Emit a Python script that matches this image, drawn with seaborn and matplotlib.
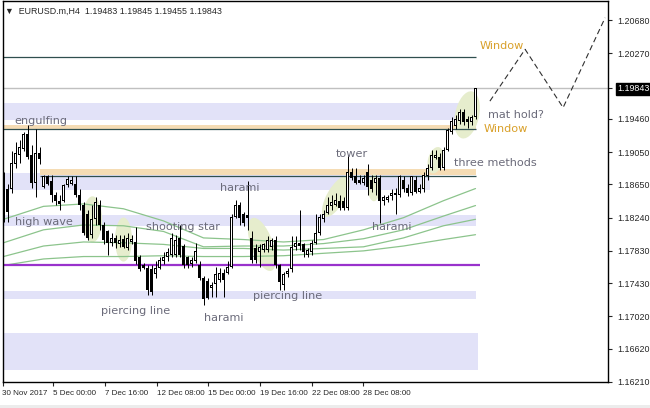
import numpy as np
import pandas as pd
import matplotlib
matplotlib.use("Agg")
import matplotlib.pyplot as plt
import seaborn as sns
from matplotlib.patches import Ellipse, Rectangle
from matplotlib.transforms import IdentityTransform

# ---------------- data (EURUSD H4) ----------------
opens = [1.1877, 1.1859, 1.1859, 1.1890, 1.1901, 1.1909, 1.1928, 1.1902, 1.1867, 1.1904,
         1.1862, 1.1875, 1.1869, 1.1852, 1.1844, 1.1844, 1.1864, 1.1866, 1.1866, 1.1852,
         1.1840, 1.1828, 1.1803, 1.1822, 1.1840, 1.1815, 1.1807, 1.1793, 1.1799, 1.1791,
         1.1798, 1.1787, 1.1794, 1.1794, 1.1775, 1.1765, 1.1762, 1.1760, 1.1754, 1.1762,
         1.1770, 1.1775, 1.1778, 1.1778, 1.1799, 1.1789, 1.1775, 1.1767, 1.1771, 1.1766,
         1.1750, 1.1746, 1.1737, 1.1742, 1.1747, 1.1756, 1.1756, 1.1763, 1.1825, 1.1840,
         1.1828, 1.1827, 1.1799, 1.1787, 1.1781, 1.1784, 1.1784, 1.1788, 1.1797, 1.1765,
         1.1741, 1.1754, 1.1760, 1.1788, 1.1793, 1.1791, 1.1778, 1.1781, 1.1793, 1.1805,
         1.1822, 1.1830, 1.1838, 1.1840, 1.1844, 1.1844, 1.1836, 1.1880, 1.1875, 1.1871,
         1.1867, 1.1881, 1.1871, 1.1867, 1.1873, 1.1844, 1.1846, 1.1851, 1.1852, 1.1852,
         1.1871, 1.1861, 1.1855, 1.1871, 1.1856, 1.1859, 1.1875, 1.1886, 1.1898, 1.1899,
         1.1886, 1.1908, 1.1930, 1.1937, 1.1943, 1.1954, 1.1946, 1.1942, 1.19483]
highs = [1.1881, 1.1865, 1.1906, 1.1917, 1.1920, 1.1930, 1.1939, 1.1914, 1.1933, 1.1911,
         1.1877, 1.1877, 1.1877, 1.1856, 1.1852, 1.1865, 1.1875, 1.1875, 1.1875, 1.1859,
         1.1843, 1.1834, 1.1840, 1.1849, 1.1846, 1.1819, 1.1809, 1.1805, 1.1803, 1.1802,
         1.1803, 1.1805, 1.1802, 1.1813, 1.1778, 1.1768, 1.1766, 1.1765, 1.1770, 1.1776,
         1.1782, 1.1787, 1.1805, 1.1803, 1.1815, 1.1792, 1.1777, 1.1775, 1.1793, 1.1770,
         1.1752, 1.1750, 1.1745, 1.1763, 1.1762, 1.1760, 1.1770, 1.1828, 1.1846, 1.1843,
         1.1831, 1.1869, 1.1807, 1.1791, 1.1792, 1.1793, 1.1801, 1.1799, 1.1801, 1.1767,
         1.1757, 1.1762, 1.1801, 1.1801, 1.1834, 1.1793, 1.1787, 1.1797, 1.1828, 1.1828,
         1.1834, 1.1850, 1.1852, 1.1855, 1.1852, 1.1849, 1.1902, 1.1886, 1.1886, 1.1877,
         1.1877, 1.1890, 1.1877, 1.1877, 1.1877, 1.1852, 1.1852, 1.1859, 1.1861, 1.1877,
         1.1876, 1.1865, 1.1875, 1.1875, 1.1865, 1.1881, 1.1890, 1.1908, 1.1908, 1.1904,
         1.1911, 1.1935, 1.1948, 1.1951, 1.1958, 1.1958, 1.1950, 1.1951, 1.19845]
lows = [1.1819, 1.1819, 1.1855, 1.1886, 1.1892, 1.1906, 1.1896, 1.1861, 1.1850, 1.1890,
        1.1861, 1.1864, 1.1843, 1.1840, 1.1834, 1.1843, 1.1862, 1.1864, 1.1850, 1.1834,
        1.1803, 1.1797, 1.1799, 1.1815, 1.1809, 1.1791, 1.1778, 1.1789, 1.1787, 1.1788,
        1.1786, 1.1784, 1.1791, 1.1767, 1.1758, 1.1760, 1.1729, 1.1728, 1.1750, 1.1760,
        1.1767, 1.1770, 1.1776, 1.1776, 1.1776, 1.1762, 1.1762, 1.1763, 1.1768, 1.1747,
        1.1716, 1.1723, 1.1726, 1.1726, 1.1745, 1.1726, 1.1754, 1.1762, 1.1823, 1.1815,
        1.1814, 1.1809, 1.1768, 1.1768, 1.1763, 1.1782, 1.1782, 1.1784, 1.1762, 1.1735,
        1.1735, 1.1751, 1.1757, 1.1784, 1.1784, 1.1775, 1.1775, 1.1778, 1.1791, 1.1803,
        1.1819, 1.1828, 1.1834, 1.1838, 1.1834, 1.1834, 1.1834, 1.1871, 1.1865, 1.1865,
        1.1864, 1.1852, 1.1856, 1.1852, 1.1818, 1.1840, 1.1843, 1.1846, 1.1828, 1.1850,
        1.1856, 1.1851, 1.1852, 1.1854, 1.1854, 1.1856, 1.1871, 1.1883, 1.1896, 1.1883,
        1.1883, 1.1906, 1.1928, 1.1933, 1.1940, 1.1939, 1.1935, 1.1939, 1.19455]
closes = [1.1830, 1.1831, 1.1892, 1.1904, 1.1911, 1.1927, 1.1899, 1.1867, 1.1904, 1.1896,
          1.1875, 1.1866, 1.1852, 1.1844, 1.1841, 1.1864, 1.1872, 1.1871, 1.1852, 1.1840,
          1.1805, 1.1799, 1.1822, 1.1843, 1.1815, 1.1797, 1.1793, 1.1799, 1.1793, 1.1797,
          1.1788, 1.1799, 1.1798, 1.1770, 1.1761, 1.1762, 1.1735, 1.1732, 1.1762, 1.1772,
          1.1776, 1.1782, 1.1799, 1.1797, 1.1778, 1.1765, 1.1765, 1.1772, 1.1783, 1.1750,
          1.1723, 1.1725, 1.1741, 1.1754, 1.1756, 1.1747, 1.1763, 1.1825, 1.1840, 1.1824,
          1.1818, 1.1823, 1.1772, 1.1772, 1.1788, 1.1791, 1.1797, 1.1796, 1.1765, 1.1744,
          1.1754, 1.1758, 1.1788, 1.1793, 1.1789, 1.1781, 1.1784, 1.1793, 1.1805, 1.1825,
          1.1828, 1.1840, 1.1843, 1.1846, 1.1836, 1.1836, 1.1880, 1.1873, 1.1867, 1.1867,
          1.1873, 1.1862, 1.1859, 1.1873, 1.1844, 1.1850, 1.1850, 1.1855, 1.1855, 1.1875,
          1.1859, 1.1855, 1.1875, 1.1856, 1.1861, 1.1877, 1.1886, 1.1901, 1.1902, 1.1886,
          1.1908, 1.1932, 1.1944, 1.1946, 1.1954, 1.1942, 1.1942, 1.1949, 1.19843]

# moving-average ribbon, sampled at bar indices
ma_bars = [0, 10, 20, 30, 40, 50, 60, 70, 80, 90, 100, 110, 118]
ma1 = [1.1822, 1.1838, 1.1841, 1.1835, 1.1820, 1.1799, 1.1797, 1.1794, 1.1797, 1.1809, 1.1824, 1.1845, 1.1860]
ma2 = [1.1793, 1.1809, 1.1815, 1.1814, 1.1807, 1.1788, 1.1789, 1.1789, 1.1792, 1.1798, 1.1809, 1.1826, 1.1839]
ma3 = [1.1776, 1.1789, 1.1794, 1.1793, 1.1791, 1.1786, 1.1786, 1.1784, 1.1786, 1.1788, 1.1799, 1.1814, 1.1822]
ma4 = [1.1765, 1.1773, 1.1776, 1.1776, 1.1777, 1.1776, 1.1776, 1.1777, 1.1780, 1.1783, 1.1789, 1.1797, 1.1803]

# projected path (dashed)
proj_bars = [121.6, 130.4, 139.9, 150.4]
proj_prices = [1.1968, 1.2032, 1.1960, 1.2071]

# horizontal levels / zones
top_level = 1.20231
window_level = 1.19334
methods_level = 1.18759
support_level = 1.17652
last_price = 1.19843

price_ticks = [1.20680, 1.20270, 1.19460, 1.19050, 1.18650, 1.18240,
               1.17830, 1.17430, 1.17020, 1.16620, 1.16210]
time_labels = ["30 Nov 2017", "5 Dec 00:00", "7 Dec 16:00", "12 Dec 08:00",
               "15 Dec 00:00", "19 Dec 16:00", "22 Dec 08:00", "28 Dec 08:00"]
time_label_bars = [-0.25, 12.375, 25.375, 38.375, 51.125, 64.125, 77.125, 89.875]

pattern_names = ["engulfing", "high wave", "shooting star", "harami", "tower", "harami",
                 "piercing line", "harami", "piercing line", "three methods", "mat hold?"]
pattern_bars = [2.6, 2.9, 35.6, 54.1, 83.1, 92.1, 24.4, 50.1, 62.4, 112.6, 121.1]
pattern_prices = [1.1944, 1.1819, 1.1813, 1.1861, 1.1903, 1.1813, 1.1709, 1.1700, 1.1727, 1.1891, 1.1951]
window_bars = [119.1, 120.1]
window_prices = [1.2036, 1.1933]

# ---------------- figure ----------------
sns.set_style("white")
plt.rcParams["font.family"] = ["DejaVu Sans"]

fig = plt.figure(figsize=(6.5, 4.08), dpi=100)
ax = fig.add_axes([2.5 / 650, (408 - 382) / 408, (608 - 2.5) / 650, (382 - 1) / 408])
ax.set_xlim(-0.25, 151.125)
ax.set_ylim(1.16210, 1.20917)

lav = "#e2e2f8"
orng = "#f5dcb4"
dark = "#2f4f4f"

def zone(x0, x1, y0, y1, color, z=0.5):
    ax.add_patch(Rectangle((x0, y0), x1 - x0, y1 - y0, facecolor=color, edgecolor="none", zorder=z))

zone(-0.25, 114.6, 1.19452, 1.19662, lav)
zone(-0.25, 118.0, 1.19340, 1.19390, orng)
zone(-0.25, 106.7, 1.18586, 1.18790, lav)
zone(9.1, 118.0, 1.18765, 1.18846, orng, 0.6)
zone(-0.25, 118.0, 1.18141, 1.18277, lav)
zone(-0.25, 118.2, 1.17238, 1.17337, lav)
zone(-0.25, 118.6, 1.16359, 1.16817, lav)

ax.hlines(top_level, -0.25, 118.0, color=dark, lw=0.9, zorder=2)
ax.hlines(window_level, -0.25, 118.0, color=dark, lw=0.9, zorder=2)
ax.hlines(methods_level, 9.1, 118.0, color=dark, lw=0.9, zorder=2)
ax.hlines(support_level, -0.25, 119.1, color="#9932cc", lw=1.6, zorder=2)
ax.axhline(last_price, color="#c0c0c0", lw=1.0, zorder=1.8)

# pattern highlights (ellipses, sized in pixels)
fig.canvas.draw()
ell_specs = [(22.25, 1.1822, 19, 46, 0), (30.0, 1.1797, 17, 44, 0), (64.6, 1.1791, 22, 56, 20),
             (83.1, 1.1850, 18, 46, -30), (92.6, 1.1861, 12, 27, 0), (108.0, 1.1895, 15, 27, -15),
             (115.9, 1.1951, 24, 48, -12)]
for bx, py, w, hgt, ang in ell_specs:
    cx, cy = ax.transData.transform((bx, py))
    ax.add_artist(Ellipse((cx, cy), w, hgt, angle=ang, transform=IdentityTransform(),
                          facecolor="#e6edcd", edgecolor="none", zorder=1))

# moving averages
ma_df = pd.DataFrame({"bar": ma_bars, "m1": ma1, "m2": ma2, "m3": ma3, "m4": ma4})
for col in ["m1", "m2", "m3", "m4"]:
    sns.lineplot(data=ma_df, x="bar", y=col, ax=ax, color="#8cc48c", lw=0.9, zorder=1.5)

# candles: 1px wick, 3px body, white bodies with 1px black outline
o = np.array(opens); h = np.array(highs); l = np.array(lows); c = np.array(closes)
xb = np.arange(len(o))
up = c >= o
px_price = (1.20917 - 1.16210) / 381.0
ax.vlines(xb, l, h, color="black", lw=0.72, zorder=3)
body = np.maximum(np.abs(c - o), px_price)
bottom = np.minimum(o, c)
ax.bar(xb, body, bottom=bottom, width=0.75, color="black", linewidth=0, zorder=4)
inner = up & (body > 2.5 * px_price)
ax.bar(xb[inner], body[inner] - 2 * px_price, bottom=bottom[inner] + px_price, width=0.25,
       color="white", linewidth=0, zorder=4.5)

# projection
proj_df = pd.DataFrame({"bar": proj_bars, "price": proj_prices})
sns.lineplot(data=proj_df, x="bar", y="price", ax=ax, color="#303030", lw=0.8,
             linestyle=(0, (5, 3)), sort=False, zorder=3)

# labels
for name, bx, py in zip(pattern_names, pattern_bars, pattern_prices):
    ax.text(bx, py, name, fontsize=8.1, color="#6b6b7a", ha="left", va="center", zorder=5)
for bx, py in zip(window_bars, window_prices):
    ax.text(bx, py, "Window", fontsize=8.1, color="#d9a02a", ha="left", va="center", zorder=5)

# axes styling
ax.set_xlabel(""); ax.set_ylabel("")
for s in ax.spines.values():
    s.set_color("black"); s.set_linewidth(1.0)
ax.yaxis.tick_right()
yt = price_ticks + [last_price]
ax.set_yticks(yt)
ax.set_yticklabels([f"{v:.5f}" for v in yt], fontsize=6.4, family=["Liberation Sans", "DejaVu Sans"])
ax.tick_params(axis="y", direction="out", length=3, width=0.8, pad=4, right=True, left=False)
for lab in ax.get_yticklabels():
    if lab.get_text() == f"{last_price:.5f}":
        lab.set_color("white")
        lab.set_bbox(dict(facecolor="black", edgecolor="black", pad=1.2))
ax.set_xticks(time_label_bars)
ax.set_xticklabels(time_labels, fontsize=5.8, ha="left", family=["Liberation Sans", "DejaVu Sans"])
ax.tick_params(axis="x", direction="out", length=3, width=0.8, pad=3, bottom=True)
ax.grid(False)

fig.text(5 / 650, 1 - 11 / 408, "\u25bc  EURUSD.m,H4  1.19483 1.19845 1.19455 1.19843",
         fontsize=6.4, family=["Liberation Sans", "DejaVu Sans"], va="center", ha="left")
fig.patches.append(Rectangle((0, 0), 1, 3 / 408, transform=fig.transFigure,
                             facecolor="#ececec", edgecolor="none", zorder=0))

fig.savefig("out.png", dpi=100)
